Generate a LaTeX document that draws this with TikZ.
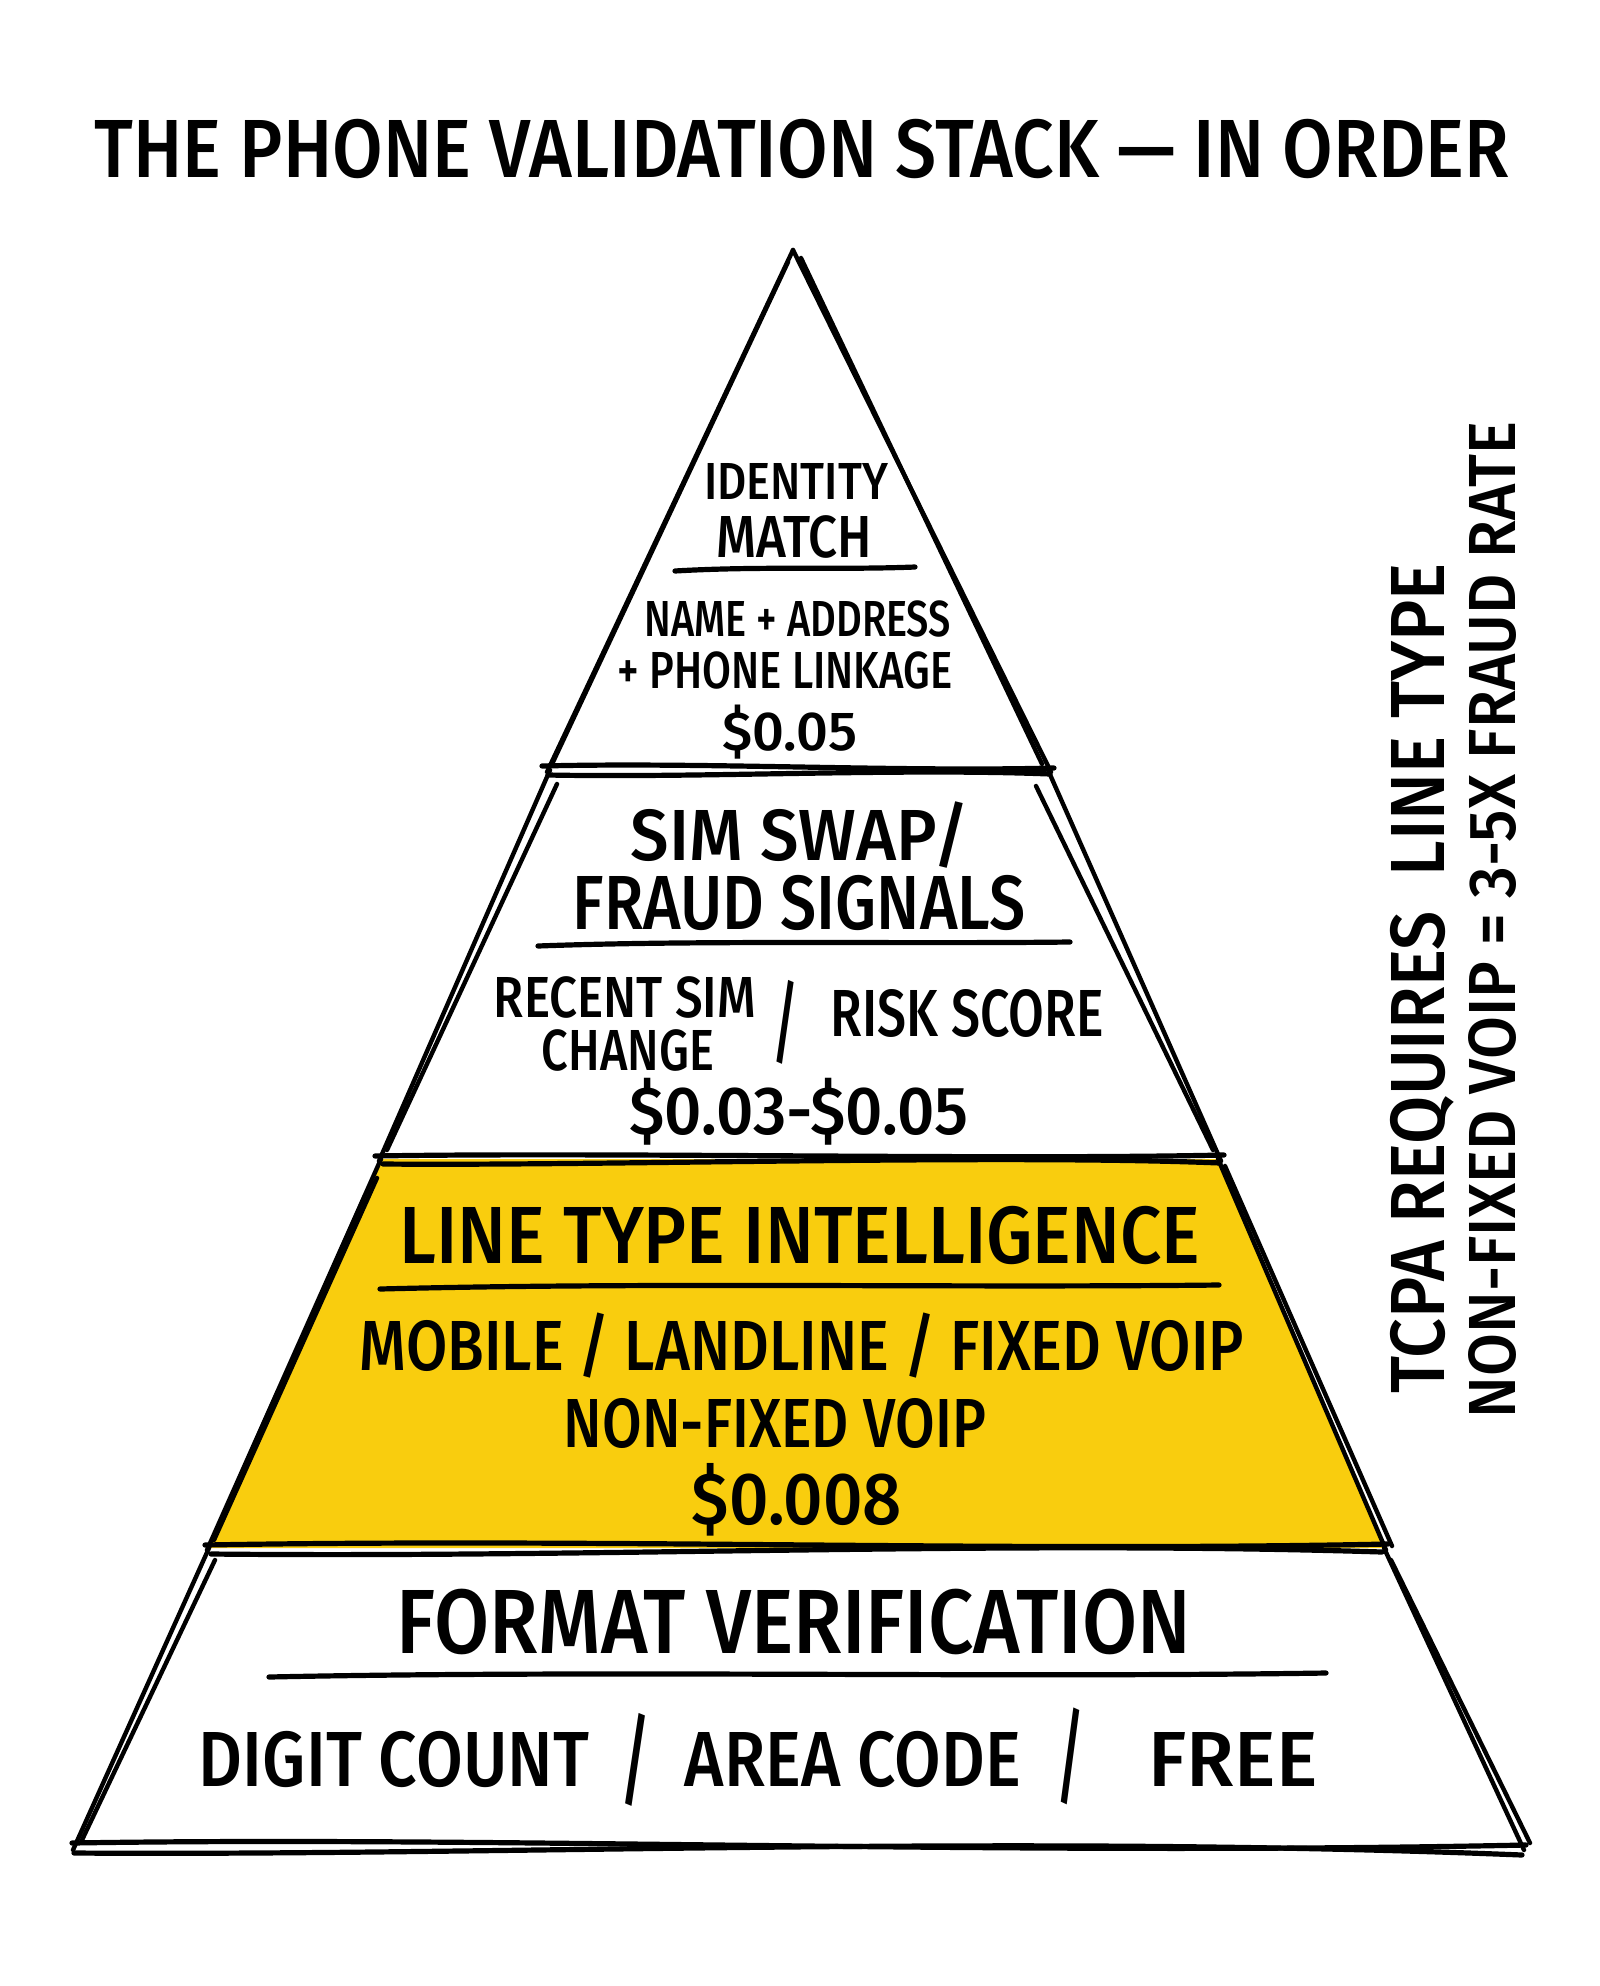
\documentclass[tikz,border=0pt]{standalone}
\usepackage{fontspec}
\setmainfont{Fira Sans}[UprightFont={* Medium}]
\usepackage{graphicx}
\newlength\px \setlength\px{0.5pt}
\newcommand\fitt[3]{\resizebox{#1\px}{#2\px}{\raisebox{0pt}[\fontcharht\font`H][0pt]{#3}}}
\newcommand\fitall[3]{\resizebox*{#1\px}{#2\px}{#3}}
\definecolor{tieryellow}{RGB}{249,205,14}
\begin{document}
\begin{tikzpicture}[x=0.5pt,y=-0.5pt,
  sk/.style={line width=2.2pt,line cap=round,line join=round},
  dv/.style={line width=2.6pt,line cap=round},
  lbl/.style={inner sep=0pt,anchor=center}]
\useasboundingbox (0,0) rectangle (1600,1986);
\fill[white] (0,0) rectangle (1600,1986);
% yellow tier
\fill[tieryellow] (381,1159) -- (1218,1159) -- (1384,1548) -- (209,1548) -- cycle;
% named corners
\coordinate (apex) at (793,250);
\coordinate (l1) at (550,770);  \coordinate (r1) at (1048,770);
\coordinate (l2) at (381,1159); \coordinate (r2) at (1218,1159);
\coordinate (l3) at (209,1548); \coordinate (r3) at (1384,1548);
\coordinate (l4) at (76,1847);  \coordinate (r4) at (1520,1847);
% top tier edges
\draw[sk] (apex) -- (547,772);
\draw[sk] (788,262) -- (553,762);
\draw[sk] (apex) -- (1051,772);
\draw[sk] (801,258) -- (1042,764);
% second tier edges
\draw[sk] (l1) -- (379,1161);
\draw[sk] (557,784) -- (387,1150);
\draw[sk] (r1) -- (1221,1161);
\draw[sk] (1036,786) -- (1213,1150);
% yellow tier edges
\draw[sk] (l2) -- (207,1550);
\draw[sk] (377,1178) -- (214,1540);
\draw[sk] (r2) -- (1386,1550);
\draw[sk] (1225,1166) -- (1392,1546);
% bottom tier edges
\draw[sk] (l3) -- (73,1850);
\draw[sk] (215,1560) -- (82,1840);
\draw[sk] (r3) -- (1524,1850);
\draw[sk] (1391,1560) -- (1530,1843);
% separators (double strokes)
\draw[dv] (542,766) .. controls (700,762) and (900,772) .. (1054,768);
\draw[dv] (548,775) .. controls (700,778) and (900,768) .. (1050,774);
\draw[dv] (375,1156) .. controls (600,1152) and (1000,1160) .. (1224,1155);
\draw[dv] (383,1164) .. controls (600,1166) and (1000,1154) .. (1220,1163);
\draw[dv] (205,1545) .. controls (600,1538) and (1000,1552) .. (1388,1544);
\draw[dv] (211,1554) .. controls (600,1558) and (1000,1540) .. (1382,1552);
\draw[dv] (72,1843) .. controls (500,1836) and (1000,1856) .. (1526,1845);
\draw[dv] (74,1853) .. controls (500,1856) and (1000,1834) .. (1522,1855);
% dividers under headers
\coordinate (d1a) at (675,571); \coordinate (d1b) at (915,567);
\coordinate (d2a) at (538,946); \coordinate (d2b) at (1070,942);
\coordinate (d3a) at (380,1289); \coordinate (d3b) at (1219,1285);
\coordinate (d4a) at (269,1677); \coordinate (d4b) at (1326,1673);
\draw[dv] (d1a) .. controls (760,566) and (840,570) .. (d1b);
\draw[dv] (d2a) .. controls (700,940) and (900,944) .. (d2b);
\draw[dv] (d3a) .. controls (650,1282) and (950,1288) .. (d3b);
\draw[dv] (d4a) .. controls (600,1670) and (1000,1678) .. (d4b);
% title
\node[lbl] (title) at (802,149) {\fitt{1415}{57}{THE PHONE VALIDATION STACK — IN ORDER}};
% tier 1
\node[lbl] (t1a) at (796,481) {\fitt{184}{36}{IDENTITY}};
\node[lbl] (t1b) at (794,537) {\fitt{156}{41}{MATCH}};
\node[lbl] (t1c) at (798,619) {\fitt{306}{35}{NAME + ADDRESS}};
\node[lbl] (t1d) at (785,670) {\fitt{335}{36}{+ PHONE LINKAGE}};
\node[lbl] (t1e) at (790,731) {\fitt{135}{38}{\$0.05}};
% tier 2
\node[lbl] (t2a) at (800,835) {\fitt{338}{50}{SIM SWAP/}};
\node[lbl] (t2b) at (799,903) {\fitt{453}{53}{FRAUD SIGNALS}};
\node[lbl] (t2c) at (625,997) {\fitt{262}{40}{RECENT SIM}};
\node[lbl] (t2d) at (628,1050) {\fitt{172}{40}{CHANGE}};
\node[lbl] (t2s) at (785,1022) {\fitall{26}{84}{/}};
\node[lbl] (t2e) at (967,1013) {\fitt{273}{46}{RISK SCORE}};
\node[lbl] (t2f) at (799,1111) {\fitt{339}{47}{\$0.03-\$0.05}};
% tier 3
\node[lbl] (t3a) at (800,1235) {\fitt{801}{56}{LINE TYPE INTELLIGENCE}};
\node[lbl] (t3b) at (802,1346) {\fitt{884}{49}{MOBILE / LANDLINE / FIXED VOIP}};
\node[lbl] (t3c) at (775,1423) {\fitt{422}{48}{NON-FIXED VOIP}};
\node[lbl] (t3d) at (797,1499) {\fitt{210}{51}{\$0.008}};
% tier 4
\node[lbl] (t4a) at (794,1622) {\fitt{794}{63}{FORMAT VERIFICATION}};
\node[lbl] (t4b) at (394,1759) {\fitt{390}{54}{DIGIT COUNT}};
\node[lbl] (t4s1) at (635,1760) {\fitall{30}{93}{/}};
\node[lbl] (t4c) at (853,1759) {\fitt{336}{54}{AREA CODE}};
\node[lbl] (t4s2) at (1070,1756) {\fitall{28}{97}{/}};
\node[lbl] (t4d) at (1233,1759) {\fitt{169}{54}{FREE}};
% side notes
\node[lbl,rotate=90] (s1) at (1418,978) {\fitt{830}{53}{TCPA REQUIRES\ \ LINE TYPE}};
\node[lbl,rotate=90] (s2) at (1492,920) {\fitt{997}{46}{NON-FIXED VOIP = 3-5X FRAUD RATE}};
\end{tikzpicture}
\end{document}
